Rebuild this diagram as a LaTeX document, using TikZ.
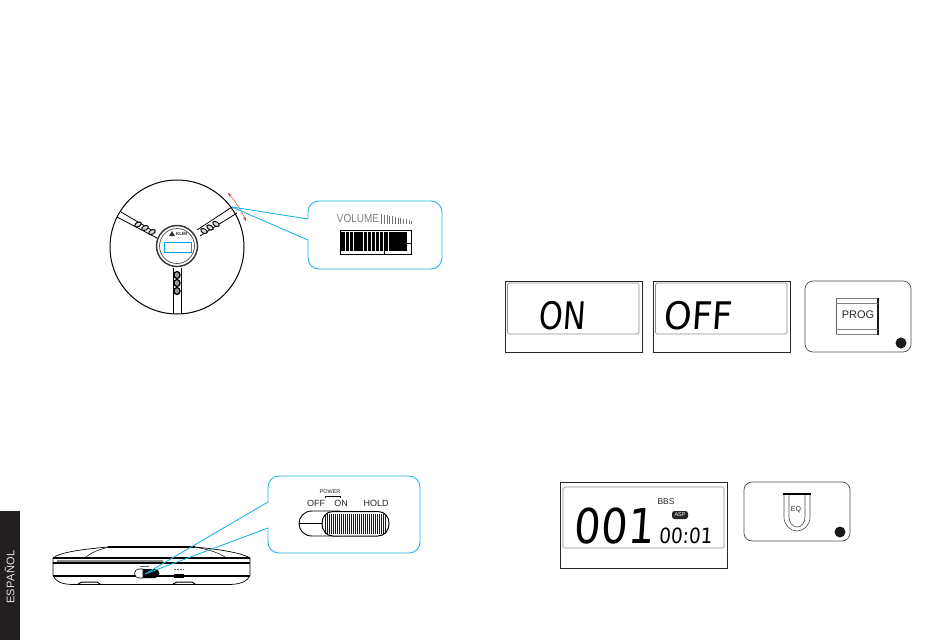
\documentclass[tikz,border=0pt]{standalone}
\usepackage{fontspec}
\setmainfont{Liberation Sans}
\newfontfamily\lcdfont{DejaVu Sans}
\usetikzlibrary{arrows.meta}

\definecolor{Tab}{HTML}{231F20}
\definecolor{Callout}{HTML}{1FB4E6}
\definecolor{Lcd}{HTML}{8C8C8C}
\definecolor{Arrow}{HTML}{D8453F}

\tikzset{
  callout/.style={draw=Callout, line width=0.9, rounded corners=11},
  pointer/.style={draw=Callout, line width=0.9},
  lcdframe/.style={draw=black!85, line width=0.8},
  lcdinner/.style={draw=Lcd, line width=0.7, rounded corners=1.5},
  panel/.style={draw=black!70, line width=0.7, rounded corners=8},
  dot/.style={circle, fill=black!90, inner sep=0, minimum size=11},
  lcdtext/.style={font=\fontsize{#1}{#1}\lcdfont, inner sep=0, xslant=0.07, transform shape},
  label/.style={inner sep=0, text=black!85}
}

\begin{document}
\begin{tikzpicture}[x=1pt, y=-1pt]
 \useasboundingbox (0,0) rectangle (950,640);

 %%%%%%%%%% Points pour travailler %%%%%%%%%%
 \coordinate (wheeltip) at (232,207);
 \coordinate (voltop) at (308,219);
 \coordinate (volbot) at (308,240);
 \coordinate (switchtip) at (145,574);
 \coordinate (holdtop) at (268,502);
 \coordinate (holdbot) at (268,528);
 \coordinate (hub) at (177,246);

 %%%%%%%%%% Side tab %%%%%%%%%%
 \fill [color=Tab] (0,511) rectangle (20,640);
 \node (lang) [rotate=90, text=white!90!black, font=\fontsize{11}{11}\selectfont\addfontfeature{LetterSpace=4}, inner sep=0] at (9.5,577) {ESPAÑOL};

 %%%%%%%%%% Wheel %%%%%%%%%%
 \draw [line width=1] (hub) ++(0,1) circle (67);
 \draw [line width=0.8] (121,212) -- (155,232) ;
 \draw [line width=0.8] (117,217) -- (157,238) ;
 \draw [line width=0.8] (232,207) -- (197,230) ;
 \draw [line width=0.8] (237,213) -- (200,236) ;
 \draw [line width=0.8] (173,268) -- (173,314) ;
 \draw [line width=0.8] (181,268) -- (181,314) ;
 \draw [line width=1.4, color=black!80] (hub) circle (20.5);
 \draw [line width=0.7, color=black!70] (hub) circle (17.5);
 \foreach \px/\py/\ang in {138/224.5/28, 145/228/28, 152/232/28, 204/231/-30, 210/227.5/-30, 216/224/-30} {
   \draw [line width=1, fill=black!15, rotate around={\ang:(\px,\py)}] (\px,\py) ellipse (3.5 and 2.2);
 }
 \foreach \py in {275,283,291} {
   \draw [line width=1.3, fill=black!40] (177,\py) ellipse (3 and 3.5);
 }
 \fill [color=black!80] (169,236) -- (172,231) -- (175,236) -- cycle ;
 \node (brand) [label, font=\fontsize{4.5}{4.5}\selectfont\bfseries] at (181.5,234) {KLIM};
 \draw [line width=0.9, color=cyan!90!blue] (164,242) rectangle (191,252) ;

 %%%%%%%%%% Volume callout %%%%%%%%%%
 \draw [Arrow, line width=0.5, {Stealth[length=4,width=3]}-{Stealth[length=4,width=3]}] (228,193) to [bend left=8] (246,221) ;
 \draw [pointer] (wheeltip) -- (voltop) ;
 \draw [pointer] (wheeltip) -- (volbot) ;
 \draw [callout] (volbot) -- (308,269) -- (442,269) -- (442,201) -- (308,201) -- (voltop) ;

 \node (vol) [inner sep=0, text=black!50, font=\fontsize{11.5}{11.5}\selectfont, xscale=0.87, transform shape] at (358,219) {VOLUME};
 \foreach \k in {0,...,11} {
   \draw [line width=0.9, color=black!55] ({381.5+\k*2.75},{224}) -- ({381.5+\k*2.75},{214+\k*0.6}) ;
 }
 \draw [line width=0.8] (340,230) rectangle (411,254) ;
 \fill (341,232) rectangle (407,251) ;
 \foreach \lx in {345,349,353,363,367,371,375,379,383,388} {
   \draw [line width=0.7, color=white] (\lx,232) -- (\lx,251) ;
 }
 \draw [line width=0.6] (407,243) -- (411,243) ;
 \draw [line width=0.6] (384,251) -- (384,254) ;

 %%%%%%%%%% Side view %%%%%%%%%%
 \draw [line width=0.7] (53,558) .. controls (60,552) and (85,549) .. (108,547) ;
 \draw [line width=0.7] (195,547) .. controls (215,549) and (240,552) .. (250,558) ;
 \draw [line width=1.5] (108,547) -- (195,547) ;
 \draw [line width=0.5] (86,557) .. controls (92,552) and (100,549) .. (110,547) ;
 \draw [line width=0.5] (225,557) .. controls (218,552) and (205,549) .. (195,547) ;
 \draw [line width=1.5] (53,558) -- (250,558) ;
 \draw [line width=1.5] (53,563) -- (250,563) ;
 \fill [color=black!45] (57,559.5) rectangle (163,561.5) ;
 \draw [line width=2] (53,576) -- (250,576) ;
 \draw [line width=0.7] (53,558) -- (53,575) .. controls (55,581) and (60,584) .. (72,584.5) -- (230,584.5) .. controls (242,584) and (248,581) .. (250,575) -- (250,558) ;
 \draw [line width=1] (78,584) -- (82,582) -- (97,582) -- (100,584) ;
 \draw [line width=1] (173,584) -- (177,582) -- (192,582) -- (195,584) ;
 \fill (143,569) -- (155,569) arc (-90:90:4.5) -- (143,578) -- cycle ;
 \draw [line width=0.6, fill=white] (143,569) -- (139,569) arc (-90:-270:4.5) -- (143,578) -- cycle ;
 \fill (174,574) rectangle (184,578) ;
 \draw [line width=0.7, color=black!60] (140,566) -- (149,566) ;
 \draw [line width=0.7, color=black!60, dash pattern=on 2 off 1] (174,569.5) -- (184,569.5) ;

 %%%%%%%%%% Switch callout %%%%%%%%%%
 \draw [pointer] (switchtip) -- (holdtop) ;
 \draw [pointer] (switchtip) -- (holdbot) ;
 \draw [callout] (holdbot) -- (268,553) -- (420,553) -- (420,476) -- (268,476) -- (holdtop) ;

 \node (power) [label, font=\fontsize{5.5}{5.5}\selectfont] at (330,491.5) {POWER};
 \node (off) [label, font=\fontsize{9}{9}\selectfont] at (316,503) {OFF};
 \node (on) [label, font=\fontsize{9}{9}\selectfont] at (341,503) {ON};
 \node (hold) [label, font=\fontsize{9}{9}\selectfont] at (376,503) {HOLD};
 \draw [line width=0.6] (325,498) -- (325,496) -- (340,496) -- (340,498) ;

 \draw [line width=0.9] (340,511) -- (312,511) .. controls (304,511) and (299,517) .. (299,523.5) .. controls (299,530) and (304,536) .. (312,536) -- (340,536) ;
 \draw [line width=0.7] (299,523) -- (325,523) ;
 \draw [line width=1, fill=white] (333,511.5) -- (378,511.5) .. controls (385,511.5) and (389,517) .. (389,523.5) .. controls (389,530) and (385,536) .. (378,536) -- (333,536) .. controls (326,536) and (322,530) .. (322,523.5) .. controls (322,517) and (326,511.5) .. (333,511.5) ;
 \foreach \lx in {325,327,...,385} {
   \draw [line width=0.9, color=black!90] (\lx,{513.5}) -- (\lx,{534}) ;
 }

 %%%%%%%%%% LCD ON / OFF %%%%%%%%%%
 \draw [lcdframe] (505,281) rectangle (642,352) ;
 \draw [lcdinner] (507.5,283) rectangle (639,334) ;
 \node (lcdon) [lcdtext=38, xscale=0.8] at (563,316) {ON};

 \draw [lcdframe] (653,281) rectangle (790,352) ;
 \draw [lcdinner] (655.5,283) rectangle (787,334) ;
 \node (lcdoff) [lcdtext=38, xscale=0.93] at (698.5,316) {OFF};

 %%%%%%%%%% PROG key %%%%%%%%%%
 \draw [panel] (805,281) rectangle (911,352) ;
 \draw [line width=0.8, color=black!50] (836,298) -- (878,298) ;
 \draw [line width=0.8, color=black!50] (836,334) -- (878,334) ;
 \draw [line width=0.6, color=black!60] (836,298) -- (836,334) ;
 \draw [line width=1.2, color=black!90] (878,297.5) -- (878,334.5) ;
 \draw [line width=0.6, color=black!50] (836,303) -- (878,303) ;
 \draw [line width=0.6, color=black!50] (836,329) -- (878,329) ;
 \node (prog) [label, font=\fontsize{11}{11}\selectfont] at (858,315) {PROG};
 \node (progdot) [dot] at (901,343) {};

 %%%%%%%%%% LCD BBS %%%%%%%%%%
 \draw [lcdframe] (560,482) rectangle (727,568) ;
 \draw [lcdinner] (563,487) rectangle (724,548) ;
 \node (lcdtrack) [lcdtext=48, xscale=0.87] at (615,526) {001};
 \node (bbs) [label, font=\fontsize{8.5}{8.5}\selectfont] at (666,502) {BBS};
 \node (asp) [fill=black!85, text=white, rounded corners=2.5, inner sep=0, minimum width=16, minimum height=8, font=\fontsize{5.5}{5.5}\selectfont] at (680,515) {ASP};
 \node (lcdtime) [lcdtext=21, xscale=0.88] at (686,535.5) {00:01};

 %%%%%%%%%% EQ key %%%%%%%%%%
 \draw [panel] (744,482) rectangle (850,541) ;
 \draw [line width=0.6, color=black!70] (784,494) -- (784,517) arc (180:0:13 and 14) -- (810,494) ;
 \draw [line width=0.6, color=black!70] (789,494) -- (789,517) arc (180:0:8 and 10) -- (805,494) ;
 \draw [line width=1.5] (783,494) -- (811,494) ;
 \node (eq) [label, font=\fontsize{7}{7}\selectfont] at (796,510) {EQ};
 \node (eqdot) [dot] at (840,532) {};

\end{tikzpicture}
\end{document}
